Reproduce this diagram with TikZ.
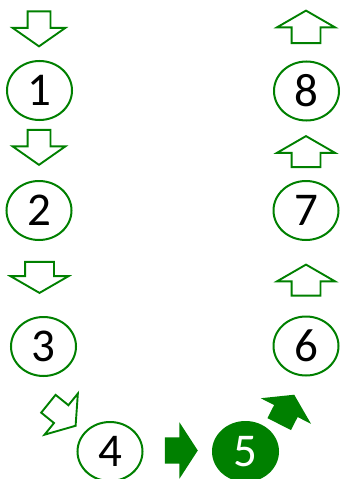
\documentclass[tikz,border=0pt]{standalone}
\usepackage{fontspec}
\setmainfont{Carlito}
\usepackage{xcolor}
\usepackage{tikz}
\usetikzlibrary{shapes.geometric,shapes.arrows}

\definecolor{stagegreen}{RGB}{0,128,0}

\begin{document}
\begin{tikzpicture}[
        x=1pt, y=-1pt,
        stage/.style={ellipse, draw=stagegreen, line width=2pt, minimum width=65pt, minimum height=59pt, inner sep=0pt, font=\fontsize{47}{47}\selectfont},
        stagedone/.style={stage, fill=stagegreen, text=white},
        hollowarr/.style={single arrow, draw=stagegreen, line width=1.9pt, anchor=tip, inner xsep=0pt, inner ysep=10.5pt, minimum height=35pt, single arrow head extend=15pt, single arrow tip angle=110},
        widearr/.style={hollowarr, minimum height=31pt, inner ysep=13.5pt, single arrow head extend=14.5pt, single arrow tip angle=120},
        solidarr/.style={single arrow, fill=stagegreen, anchor=tip, inner xsep=0pt, inner ysep=13pt, minimum height=33pt, single arrow head extend=15pt, single arrow tip angle=114}
    ]
        \useasboundingbox (0,0) rectangle (341,479);

        \node[stage] (s1) at (39.5,90.5) {1};
        \node[stage] (s2) at (39,210.5) {2};
        \node[stage] (s3) at (43.5,346.5) {3};
        \node[stage] (s4) at (110,451.5) {4};
        \node[stagedone] (s5) at (245.5,451.5) {5};
        \node[stage] (s6) at (306,346) {6};
        \node[stage] (s7) at (306,210.5) {7};
        \node[stage] (s8) at (306.5,91) {8};

        % way down
        \node[hollowarr, rotate=-90] (a1) at (39,47.5) {};
        \node[hollowarr, rotate=-90] (a2) at (39,166) {};
        \node[widearr, rotate=-90] (a3) at (39.5,294) {};
        \node[hollowarr, rotate=-39] (a4) at (76.5,426.5) {};

        % along the bottom
        \node[solidarr] (a5) at (198,450.5) {};
        \node[solidarr, rotate=63] (a6) at (294.3,394.5) {};

        % way up
        \node[widearr, rotate=90] (a7) at (306,263.5) {};
        \node[widearr, rotate=90] (a8) at (306,135) {};
        \node[widearr, rotate=90, minimum height=32.5pt] (a9) at (306,9.5) {};
    \end{tikzpicture}
\end{document}
